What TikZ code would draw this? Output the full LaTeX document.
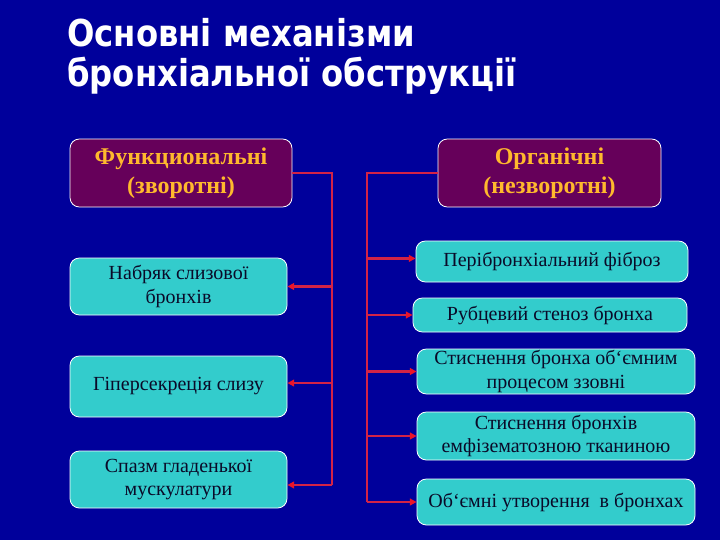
\documentclass[tikz,border=0pt]{standalone}
\usepackage{fontspec}
\setmainfont{Liberation Serif}
\newfontfamily\titlefont[FakeStretch=0.87]{DejaVu Sans}
\usetikzlibrary{arrows.meta}
\definecolor{bg}{RGB}{0,0,155}
\definecolor{hdrfill}{RGB}{102,0,90}
\definecolor{gold}{RGB}{255,185,45}
\definecolor{boxfill}{RGB}{51,204,204}
\definecolor{conncol}{RGB}{210,35,70}
\definecolor{arrcol}{RGB}{235,20,40}
\definecolor{txt}{RGB}{10,10,40}
\tikzset{
  hdr/.style={draw=white, line width=0.6pt, fill=hdrfill, rounded corners=7pt,
    text=gold, align=center, inner sep=0pt,
    font=\bfseries\fontsize{18}{22}\selectfont},
  cbox/.style={draw=white, line width=0.6pt, fill=boxfill, rounded corners=7pt,
    text=txt, align=center, inner sep=0pt,
    font=\fontsize{15}{17.8}\selectfont},
  ttl/.style={text=white, anchor=base west, inner sep=0pt,
    font=\titlefont\bfseries\fontsize{27.8}{30}\selectfont},
  conn/.style={draw=conncol, line width=2pt},
  arr/.style={draw=conncol, line width=2pt, -{Triangle[length=5pt,width=5pt,color=arrcol]}}
}
\begin{document}
\begin{tikzpicture}[x=0.75pt,y=-0.75pt]
\fill[bg] (0,0) rectangle (720,540);
\useasboundingbox (0,0) rectangle (720,540);
% title
\node[ttl] (t1) at (67,46) {Основні механізми};
\node[ttl] (t2) at (67,86) {бронхіальної обструкції};
% headers
\node[hdr, minimum width=166.5pt, minimum height=51pt] (lh) at (181,173) {Функциональні\\(зворотні)};
\node[hdr, minimum width=167.25pt, minimum height=51pt] (rh) at (549.5,173) {Органічні\\(незворотні)};
% left boxes
\node[cbox, minimum width=162.75pt, minimum height=42.75pt] (lb1) at (178.5,286.5) {Набряк слизової\\бронхів};
\node[cbox, minimum width=162.75pt, minimum height=45.75pt] (lb2) at (178.5,386.5) {Гіперсекреція слизу};
\node[cbox, minimum width=162.75pt, minimum height=42.75pt] (lb3) at (178.5,479.5) {Спазм гладенької\\мускулатури};
% right boxes
\node[cbox, minimum width=204pt, minimum height=30.75pt] (rb1) at (552,261.5) {Перібронхіальний фіброз};
\node[cbox, minimum width=205.5pt, minimum height=25.5pt] (rb2) at (550,315) {Рубцевий стеноз бронха};
\node[cbox, minimum width=208.5pt, minimum height=33.75pt] (rb3) at (556,371.5) {Стиснення бронха об\symbol{"60}ємним\\процесом ззовні};
\node[cbox, minimum width=208.5pt, minimum height=36pt] (rb4) at (556,436) {Стиснення бронхів\\емфізематозною тканиною};
\node[cbox, minimum width=208.5pt, minimum height=34.5pt] (rb5) at (556,502) {Об\symbol{"60}ємні утворення\enspace в бронхах};
% trunks
\coordinate (lt) at (332,173);
\coordinate (rt) at (367,173);
\coordinate (la2) at ([yshift=2.6pt]lb2.east);
\coordinate (la3) at ([yshift=-4.1pt]lb3.east);
\coordinate (ra1) at ([yshift=2.3pt]rb1.west);
\draw[conn] (lh.east) -- (lt) -- (lt |- la3);
\draw[conn] (rh.west) -- (rt) -- (rt |- rb5.west);
% left arrows
\draw[arr] (lt |- lb1.east) -- (lb1.east);
\draw[arr] (lt |- la2) -- (la2);
\draw[arr] (lt |- la3) -- (la3);
% right arrows
\draw[arr] (rt |- ra1) -- (ra1);
\draw[arr] (rt |- rb2.west) -- (rb2.west);
\draw[arr] (rt |- rb3.west) -- (rb3.west);
\draw[arr] (rt |- rb4.west) -- (rb4.west);
\draw[arr] (rt |- rb5.west) -- (rb5.west);
\end{tikzpicture}
\end{document}
